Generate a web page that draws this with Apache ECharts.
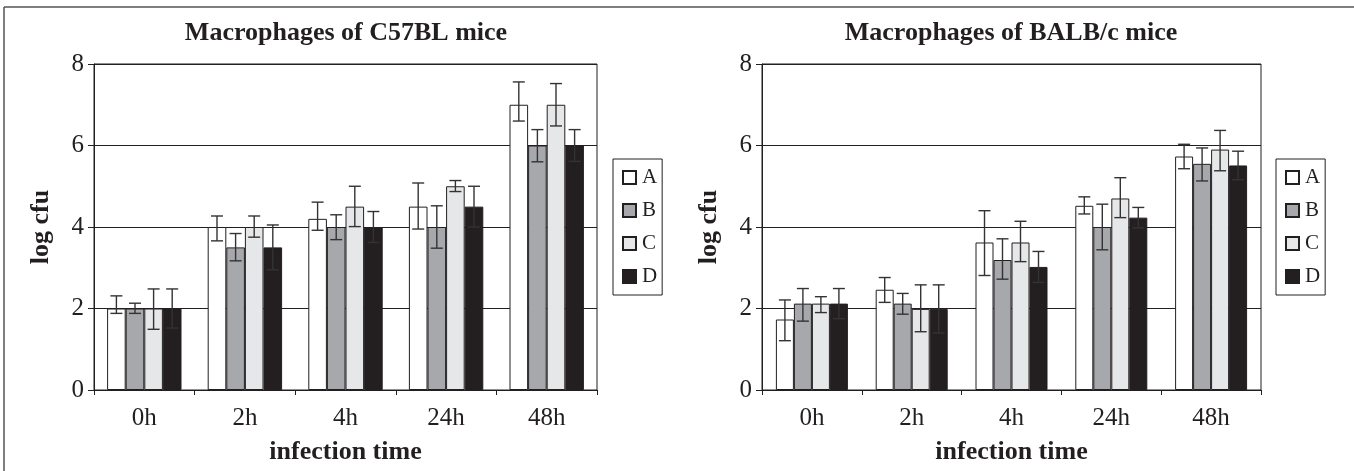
<!DOCTYPE html>
<html>
<head>
<meta charset="utf-8">
<script src="https://cdn.jsdelivr.net/npm/echarts@6/dist/echarts.min.js"></script>
<style>
html,body{margin:0;padding:0;background:#fff;}
#chart{width:1354px;height:471px;}
</style>
</head>
<body>
<div id="chart"></div>
<script>
// ---- data ----
const categories = ['0h', '2h', '4h', '24h', '48h'];
const seriesNames = ['A', 'B', 'C', 'D'];
const yTicks = [0, 2, 4, 6, 8];

// Macrophages of C57BL mice
const c57A = [2.0, 4.0, 4.2, 4.5, 7.0];
const c57B = [2.0, 3.5, 4.0, 4.0, 6.0];
const c57C = [2.0, 4.0, 4.5, 5.0, 7.0];
const c57D = [2.0, 3.5, 4.0, 4.5, 6.0];
const c57AErr = [[1.88, 2.31], [3.66, 4.27], [3.92, 4.61], [3.95, 5.08], [6.60, 7.56]];
const c57BErr = [[1.88, 2.13], [3.17, 3.84], [3.69, 4.30], [3.48, 4.52], [5.60, 6.39]];
const c57CErr = [[1.49, 2.48], [3.75, 4.27], [4.01, 5.00], [4.87, 5.14], [6.48, 7.52]];
const c57DErr = [[1.52, 2.48], [2.95, 4.05], [3.62, 4.38], [4.00, 5.00], [5.61, 6.39]];

// Macrophages of BALB/c mice
const balbA = [1.73, 2.46, 3.62, 4.52, 5.73];
const balbB = [2.12, 2.12, 3.19, 4.0, 5.55];
const balbC = [2.12, 1.99, 3.62, 4.70, 5.90];
const balbD = [2.12, 1.99, 3.02, 4.23, 5.51];
const balbAErr = [[1.21, 2.21], [2.15, 2.76], [2.81, 4.40], [4.32, 4.74], [5.43, 6.03]];
const balbBErr = [[1.69, 2.49], [1.86, 2.37], [2.72, 3.71], [3.44, 4.56], [5.13, 5.94]];
const balbCErr = [[1.90, 2.29], [1.43, 2.58], [3.15, 4.14], [4.23, 5.21], [5.38, 6.37]];
const balbDErr = [[1.75, 2.49], [1.40, 2.58], [2.64, 3.40], [3.98, 4.48], [5.16, 5.86]];

// ---- styling ----
const INK = '#231f20';
const FONT = '"Liberation Serif", "Times New Roman", serif';
const colors = ['#ffffff', '#a7a8ab', '#e6e7e9', '#231f20'];

const chart = echarts.init(document.getElementById('chart'), null, {renderer: 'canvas'});

function makeAxes(idx, gridLeft, gridWidth) {
  return {
    grid: {left: gridLeft, top: 64, width: gridWidth, height: 326, show: true,
           borderColor: INK, borderWidth: 1, backgroundColor: 'transparent'},
    xAxis: {
      gridIndex: idx, type: 'category', data: categories,
      axisLine: {show: true, lineStyle: {color: INK, width: 1}},
      axisTick: {show: true, interval: 0, length: 5, lineStyle: {color: INK}},
      axisLabel: {fontFamily: FONT, fontSize: 25, color: INK, margin: 16, interval: 0},
      name: 'infection time', nameLocation: 'middle', nameGap: 49,
      nameTextStyle: {fontFamily: FONT, fontSize: 26, fontWeight: 'bold', color: INK},
      splitLine: {show: false}
    },
    yAxis: {
      gridIndex: idx, type: 'value', min: yTicks[0], max: yTicks[yTicks.length - 1], interval: 2,
      axisLine: {show: true, lineStyle: {color: INK, width: 1}},
      axisTick: {show: true, length: 6, lineStyle: {color: INK}},
      axisLabel: {fontFamily: FONT, fontSize: 25, color: INK, margin: 10},
      splitLine: {show: true, lineStyle: {color: INK, width: 1}},
      name: 'log cfu', nameLocation: 'middle', nameGap: 40, nameRotate: 90,
      nameTextStyle: {fontFamily: FONT, fontSize: 26, fontWeight: 'bold', color: INK}
    }
  };
}

function makeSeries(idx, values, errs, bw) {
  const out = [];
  values.forEach((vals, i) => {
    out.push({
      type: 'bar', name: seriesNames[i], xAxisIndex: idx, yAxisIndex: idx,
      data: vals, barWidth: bw, barGap: '0%',
      itemStyle: {color: colors[i], borderColor: INK, borderWidth: 1},
      z: 2, silent: true
    });
  });
  errs.forEach((err, i) => {
    out.push({
      type: 'custom', name: 'err' + seriesNames[i], xAxisIndex: idx, yAxisIndex: idx,
      data: err.map((e, k) => [k, e[0], e[1]]),
      encode: {x: 0, y: [1, 2]},
      z: 5, silent: true,
      renderItem: function (params, api) {
        const k = api.value(0);
        const lo = api.coord([k, api.value(1)]);
        const hi = api.coord([k, api.value(2)]);
        const cx = lo[0] + (i - 1.5) * bw;
        const cap = 6;
        const st = {stroke: '#333', lineWidth: 1.4};
        return {type: 'group', children: [
          {type: 'line', shape: {x1: cx, y1: lo[1], x2: cx, y2: hi[1]}, style: st},
          {type: 'line', shape: {x1: cx - cap, y1: hi[1], x2: cx + cap, y2: hi[1]}, style: st},
          {type: 'line', shape: {x1: cx - cap, y1: lo[1], x2: cx + cap, y2: lo[1]}, style: st}
        ]};
      }
    });
  });
  return out;
}

const a0 = makeAxes(0, 94, 503);
const a1 = makeAxes(1, 762, 499);

function legendAt(left) {
  return {
    left: left, top: 159, orient: 'vertical',
    data: seriesNames.map(n => ({name: n, icon: 'rect'})),
    itemWidth: 13, itemHeight: 13, itemGap: 12,
    padding: [8, 5, 8, 9],
    borderColor: INK, borderWidth: 1, backgroundColor: '#fff',
    textStyle: {fontFamily: FONT, fontSize: 21, color: INK, padding: [0, 0, 0, 1]},
    selectedMode: false
  };
}

const option = {
  animation: false,
  backgroundColor: '#fff',
  grid: [a0.grid, a1.grid],
  xAxis: [a0.xAxis, a1.xAxis],
  yAxis: [a0.yAxis, a1.yAxis],
  legend: [legendAt(613), legendAt(1276)],
  series: [
    ...makeSeries(0, [c57A, c57B, c57C, c57D], [c57AErr, c57BErr, c57CErr, c57DErr], 18.6),
    ...makeSeries(1, [balbA, balbB, balbC, balbD], [balbAErr, balbBErr, balbCErr, balbDErr], 18)
  ],
  graphic: [
    {type: 'line', shape: {x1: 4, y1: 7, x2: 1354, y2: 7}, style: {stroke: '#555', lineWidth: 1.5}, silent: true},
    {type: 'line', shape: {x1: 4, y1: 7, x2: 4, y2: 471}, style: {stroke: '#555', lineWidth: 1.5}, silent: true},
    {type: 'text', x: 346, y: 33, silent: true,
     style: {text: 'Macrophages of C57BL mice', font: 'bold 26px ' + FONT, fill: INK, align: 'center', verticalAlign: 'middle'}},
    {type: 'text', x: 1011, y: 33, silent: true,
     style: {text: 'Macrophages of BALB/c mice', font: 'bold 26px ' + FONT, fill: INK, align: 'center', verticalAlign: 'middle'}}
  ]
};
chart.setOption(option);
</script>
</body>
</html>
